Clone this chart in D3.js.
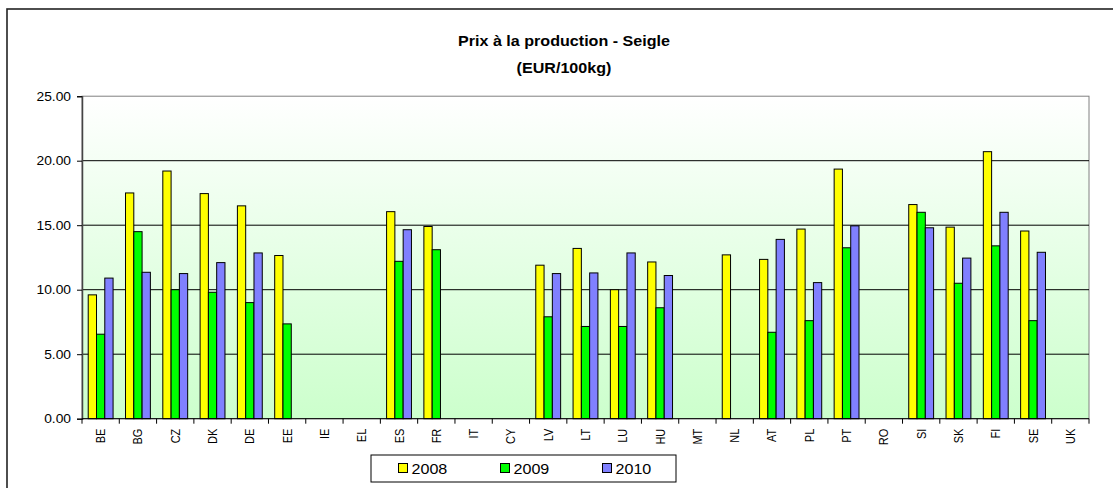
<!DOCTYPE html>
<html>
<head>
<meta charset="utf-8">
<script src="https://cdn.jsdelivr.net/npm/d3@7"></script>
<style>
  html, body { margin: 0; padding: 0; background: #fff; }
  svg { display: block; font-family: Arial, "Liberation Sans", sans-serif; }
</style>
</head>
<body>
<svg id="chart" width="1113" height="488"></svg>
<script>
// Producer prices for rye, EUR per 100 kg, by member state
const countries = ["BE","BG","CZ","DK","DE","EE","IE","EL","ES","FR","IT","CY","LV","LT","LU","HU","MT","NL","AT","PL","PT","RO","SI","SK","FI","SE","UK"];
const years = ["2008","2009","2010"];
const values2008 = [9.6,17.5,19.2,17.45,16.5,12.65,null,null,16.05,14.9,null,null,11.9,13.2,10.0,12.15,null,12.7,12.35,14.7,19.35,null,16.6,14.85,20.7,14.55,null];
const values2009 = [6.55,14.5,10.0,9.8,9.0,7.35,null,null,12.2,13.1,null,null,7.9,7.15,7.15,8.6,null,null,6.7,7.6,13.25,null,16.0,10.5,13.4,7.6,null];
const values2010 = [10.9,11.35,11.25,12.1,12.85,null,null,null,14.65,null,null,null,11.25,11.3,12.85,11.1,null,null,13.9,10.55,14.95,null,14.8,12.45,16.0,12.9,null];
const yTicks = [0,5,10,15,20,25];
const colors = ["#FFFF00","#00FF00","#8080FF"];

const series = [values2008, values2009, values2010];
const stretch = 1.15; // slightly wide lettering
const svg = d3.select("#chart");

// outer chart frame
svg.append("rect")
  .attr("x", 7).attr("y", 9).attr("width", 1300).attr("height", 700)
  .attr("fill", "#fff").attr("stroke", "#222").attr("stroke-width", 1.6);

const plot = { left: 82, right: 1089, top: 96.2, bottom: 418.7 };

const x0 = d3.scaleBand().domain(countries).range([plot.left, plot.right]).padding(0);
const step = x0.step();
const bw = step / 4.5;
const x1 = d3.scaleBand().domain(years).range([0.75 * bw, 3.75 * bw]).padding(0);
const y = d3.scaleLinear().domain([0, 25]).range([plot.bottom, plot.top]);

// plot background gradient
const defs = svg.append("defs");
const grad = defs.append("linearGradient").attr("id", "bg").attr("x1", 0).attr("y1", 0).attr("x2", 0).attr("y2", 1);
grad.append("stop").attr("offset", "0%").attr("stop-color", "#FFFFFF");
grad.append("stop").attr("offset", "100%").attr("stop-color", "#CCFFCC");

svg.append("rect")
  .attr("x", plot.left).attr("y", plot.top)
  .attr("width", plot.right - plot.left).attr("height", plot.bottom - plot.top)
  .attr("fill", "url(#bg)").attr("stroke", "#808080").attr("stroke-width", 1);

// horizontal gridlines
svg.append("g").selectAll("line").data(yTicks.filter(t => t > 0 && t < 25)).join("line")
  .attr("x1", plot.left).attr("x2", plot.right)
  .attr("y1", d => y(d)).attr("y2", d => y(d))
  .attr("stroke", "#000").attr("stroke-width", 1);

// bars
years.forEach((yr, i) => {
  svg.append("g").selectAll("rect")
    .data(countries.map((c, k) => ({ c, v: series[i][k] })).filter(d => d.v != null))
    .join("rect")
    .attr("x", d => x0(d.c) + x1(yr))
    .attr("y", d => y(d.v))
    .attr("width", x1.bandwidth())
    .attr("height", d => plot.bottom - y(d.v))
    .attr("fill", colors[i])
    .attr("stroke", "#000").attr("stroke-width", 1);
});

// y axis
const yAxis = d3.axisLeft(y).tickValues(yTicks).tickFormat("").tickSize(5);
const gy = svg.append("g").attr("transform", `translate(${plot.left},0)`).call(yAxis);
gy.select(".domain").attr("stroke", "#444").attr("stroke-width", 1.5);
gy.selectAll(".tick line").attr("stroke", "#000");
const fmt = d3.format(".2f");
svg.append("g").selectAll("text").data(yTicks).join("text")
  .attr("transform", d => `translate(71,${y(d) + 4.3}) scale(${stretch},1)`)
  .attr("text-anchor", "end").attr("font-size", 12).attr("fill", "#000")
  .text(d => fmt(d));

// x axis: ticks at category boundaries
const gx = svg.append("g").attr("transform", `translate(0,${plot.bottom})`);
gx.append("line").attr("x1", plot.left).attr("x2", plot.right).attr("stroke", "#000").attr("stroke-width", 1);
gx.selectAll("line.tk").data(d3.range(countries.length + 1)).join("line")
  .attr("class", "tk")
  .attr("x1", i => plot.left + i * step).attr("x2", i => plot.left + i * step)
  .attr("y1", 0).attr("y2", 5).attr("stroke", "#000");
gx.selectAll("text").data(countries).join("text")
  .attr("transform", d => `translate(${x0(d) + step / 2 + 4.5},10) rotate(-90) scale(1,${stretch})`)
  .attr("text-anchor", "end")
  .attr("font-size", 11).attr("fill", "#000")
  .text(d => d);

// title
svg.append("text").attr("transform", `translate(564,46) scale(${stretch},1)`).attr("text-anchor", "middle")
  .attr("font-size", 14).attr("font-weight", "bold").text("Prix à la production - Seigle");
svg.append("text").attr("transform", `translate(564,73) scale(${stretch},1)`).attr("text-anchor", "middle")
  .attr("font-size", 14).attr("font-weight", "bold").text("(EUR/100kg)");

// legend
const lg = svg.append("g");
lg.append("rect").attr("x", 371).attr("y", 455).attr("width", 305).attr("height", 27)
  .attr("fill", "#fff").attr("stroke", "#000").attr("stroke-width", 1);
years.forEach((yr, i) => {
  const lx = 398.5 + i * 102;
  lg.append("rect").attr("x", lx).attr("y", 463.5).attr("width", 9).attr("height", 9)
    .attr("fill", colors[i]).attr("stroke", "#000").attr("stroke-width", 1);
  lg.append("text").attr("transform", `translate(${lx + 13},474) scale(${stretch},1)`)
    .attr("font-size", 14).attr("fill", "#000").text(yr);
});
</script>
</body>
</html>
